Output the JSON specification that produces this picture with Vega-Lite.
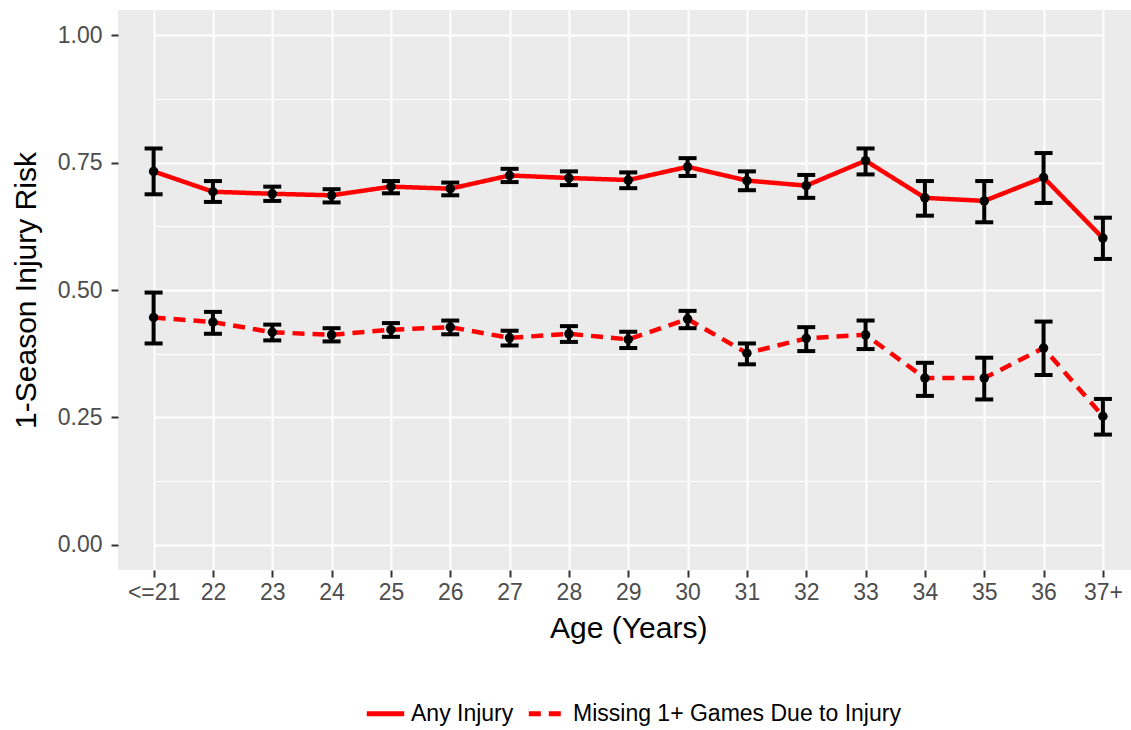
{
  "$schema": "https://vega.github.io/schema/vega-lite/v6.json",
  "width": 1013,
  "height": 560,
  "autosize": {"type": "none"},
  "padding": {"left": 118, "top": 10, "right": 0, "bottom": 160},
  "background": "white",
  "config": {
    "font": "Liberation Sans",
    "view": {"fill": "#EBEBEB", "stroke": null}
  },
  "data": {
    "values": [
      {"age": "<=21", "series": "Any Injury", "value": 0.733, "lo": 0.688, "hi": 0.778},
      {"age": "22", "series": "Any Injury", "value": 0.693, "lo": 0.673, "hi": 0.714},
      {"age": "23", "series": "Any Injury", "value": 0.689, "lo": 0.675, "hi": 0.703},
      {"age": "24", "series": "Any Injury", "value": 0.686, "lo": 0.672, "hi": 0.698},
      {"age": "25", "series": "Any Injury", "value": 0.703, "lo": 0.690, "hi": 0.714},
      {"age": "26", "series": "Any Injury", "value": 0.699, "lo": 0.686, "hi": 0.711},
      {"age": "27", "series": "Any Injury", "value": 0.725, "lo": 0.712, "hi": 0.738},
      {"age": "28", "series": "Any Injury", "value": 0.720, "lo": 0.706, "hi": 0.733},
      {"age": "29", "series": "Any Injury", "value": 0.716, "lo": 0.700, "hi": 0.731},
      {"age": "30", "series": "Any Injury", "value": 0.742, "lo": 0.724, "hi": 0.759},
      {"age": "31", "series": "Any Injury", "value": 0.715, "lo": 0.696, "hi": 0.733},
      {"age": "32", "series": "Any Injury", "value": 0.705, "lo": 0.681, "hi": 0.726},
      {"age": "33", "series": "Any Injury", "value": 0.754, "lo": 0.727, "hi": 0.778},
      {"age": "34", "series": "Any Injury", "value": 0.681, "lo": 0.646, "hi": 0.714},
      {"age": "35", "series": "Any Injury", "value": 0.675, "lo": 0.633, "hi": 0.714},
      {"age": "36", "series": "Any Injury", "value": 0.721, "lo": 0.671, "hi": 0.769},
      {"age": "37+", "series": "Any Injury", "value": 0.602, "lo": 0.561, "hi": 0.642},
      {"age": "<=21", "series": "Missing 1+ Games Due to Injury", "value": 0.446, "lo": 0.395, "hi": 0.495},
      {"age": "22", "series": "Missing 1+ Games Due to Injury", "value": 0.437, "lo": 0.414, "hi": 0.457},
      {"age": "23", "series": "Missing 1+ Games Due to Injury", "value": 0.417, "lo": 0.401, "hi": 0.432},
      {"age": "24", "series": "Missing 1+ Games Due to Injury", "value": 0.412, "lo": 0.399, "hi": 0.425},
      {"age": "25", "series": "Missing 1+ Games Due to Injury", "value": 0.422, "lo": 0.408, "hi": 0.435},
      {"age": "26", "series": "Missing 1+ Games Due to Injury", "value": 0.427, "lo": 0.413, "hi": 0.440},
      {"age": "27", "series": "Missing 1+ Games Due to Injury", "value": 0.406, "lo": 0.391, "hi": 0.420},
      {"age": "28", "series": "Missing 1+ Games Due to Injury", "value": 0.414, "lo": 0.398, "hi": 0.429},
      {"age": "29", "series": "Missing 1+ Games Due to Injury", "value": 0.403, "lo": 0.386, "hi": 0.418},
      {"age": "30", "series": "Missing 1+ Games Due to Injury", "value": 0.443, "lo": 0.425, "hi": 0.459},
      {"age": "31", "series": "Missing 1+ Games Due to Injury", "value": 0.376, "lo": 0.354, "hi": 0.395},
      {"age": "32", "series": "Missing 1+ Games Due to Injury", "value": 0.405, "lo": 0.380, "hi": 0.427},
      {"age": "33", "series": "Missing 1+ Games Due to Injury", "value": 0.412, "lo": 0.384, "hi": 0.440},
      {"age": "34", "series": "Missing 1+ Games Due to Injury", "value": 0.327, "lo": 0.292, "hi": 0.357},
      {"age": "35", "series": "Missing 1+ Games Due to Injury", "value": 0.327, "lo": 0.285, "hi": 0.367},
      {"age": "36", "series": "Missing 1+ Games Due to Injury", "value": 0.386, "lo": 0.333, "hi": 0.438},
      {"age": "37+", "series": "Missing 1+ Games Due to Injury", "value": 0.252, "lo": 0.216, "hi": 0.286}
    ]
  },
  "encoding": {
    "x": {
      "field": "age",
      "type": "ordinal",
      "sort": ["<=21", "22", "23", "24", "25", "26", "27", "28", "29", "30", "31", "32", "33", "34", "35", "36", "37+"],
      "scale": {"type": "point", "range": [35.6, 984.9], "padding": 0},
      "axis": {
        "title": "Age (Years)",
        "titleFontSize": 30,
        "titleFontWeight": "normal",
        "titleColor": "black",
        "titlePadding": 9,
        "labelFontSize": 23,
        "labelColor": "#4D4D4D",
        "labelAngle": 0,
        "labelPadding": 4,
        "tickColor": "#333333",
        "tickSize": 7,
        "tickWidth": 2,
        "domain": false,
        "grid": true,
        "gridColor": "white",
        "gridWidth": 2
      }
    }
  },
  "layer": [
    {
      "mark": {"type": "line", "color": "#FF0000", "strokeWidth": 4.5},
      "encoding": {
        "y": {
          "field": "value",
          "type": "quantitative",
          "scale": {"domain": [-0.05, 1.05], "nice": false, "zero": false},
          "axis": {
            "title": "1-Season Injury Risk",
            "titleFontSize": 30,
            "titleFontWeight": "normal",
            "titleColor": "black",
            "titlePadding": 16,
            "values": [0, 0.125, 0.25, 0.375, 0.5, 0.625, 0.75, 0.875, 1],
            "labelExpr": "datum.value % 0.25 == 0 ? format(datum.value, '.2f') : ''",
            "labelFontSize": 23,
            "labelColor": "#4D4D4D",
            "labelPadding": 9,
            "tickColor": "#333333",
            "tickSize": 7,
            "tickWidth": 2,
            "tickOpacity": {"condition": {"test": "datum.value % 0.25 == 0", "value": 1}, "value": 0},
            "domain": false,
            "grid": true,
            "gridColor": "white",
            "gridWidth": {"condition": {"test": "datum.value % 0.25 == 0", "value": 2}, "value": 1}
          }
        },
        "strokeDash": {
          "field": "series",
          "type": "nominal",
          "scale": {
            "domain": ["Any Injury", "Missing 1+ Games Due to Injury"],
            "range": [[1, 0], [12, 8]]
          },
          "legend": {
            "title": null,
            "orient": "none",
            "legendX": 246,
            "legendY": 682,
            "direction": "horizontal",
            "symbolType": "stroke",
            "symbolSize": 1400,
            "symbolStrokeWidth": 5,
            "symbolStrokeColor": "#FF0000",
            "labelFontSize": 23,
            "labelColor": "black",
            "labelLimit": 0,
            "labelOffset": 4,
            "columnPadding": 4
          }
        }
      }
    },
    {
      "mark": {"type": "rule", "color": "black", "strokeWidth": 4},
      "encoding": {
        "y": {"field": "lo", "type": "quantitative"},
        "y2": {"field": "hi"}
      }
    },
    {
      "mark": {"type": "tick", "color": "black", "size": 18, "thickness": 4, "orient": "horizontal", "opacity": 1},
      "encoding": {
        "y": {"field": "lo", "type": "quantitative"}
      }
    },
    {
      "mark": {"type": "tick", "color": "black", "size": 18, "thickness": 4, "orient": "horizontal", "opacity": 1},
      "encoding": {
        "y": {"field": "hi", "type": "quantitative"}
      }
    },
    {
      "mark": {"type": "point", "shape": "circle", "filled": true, "color": "black", "size": 90, "opacity": 1},
      "encoding": {
        "y": {"field": "value", "type": "quantitative"}
      }
    }
  ]
}
